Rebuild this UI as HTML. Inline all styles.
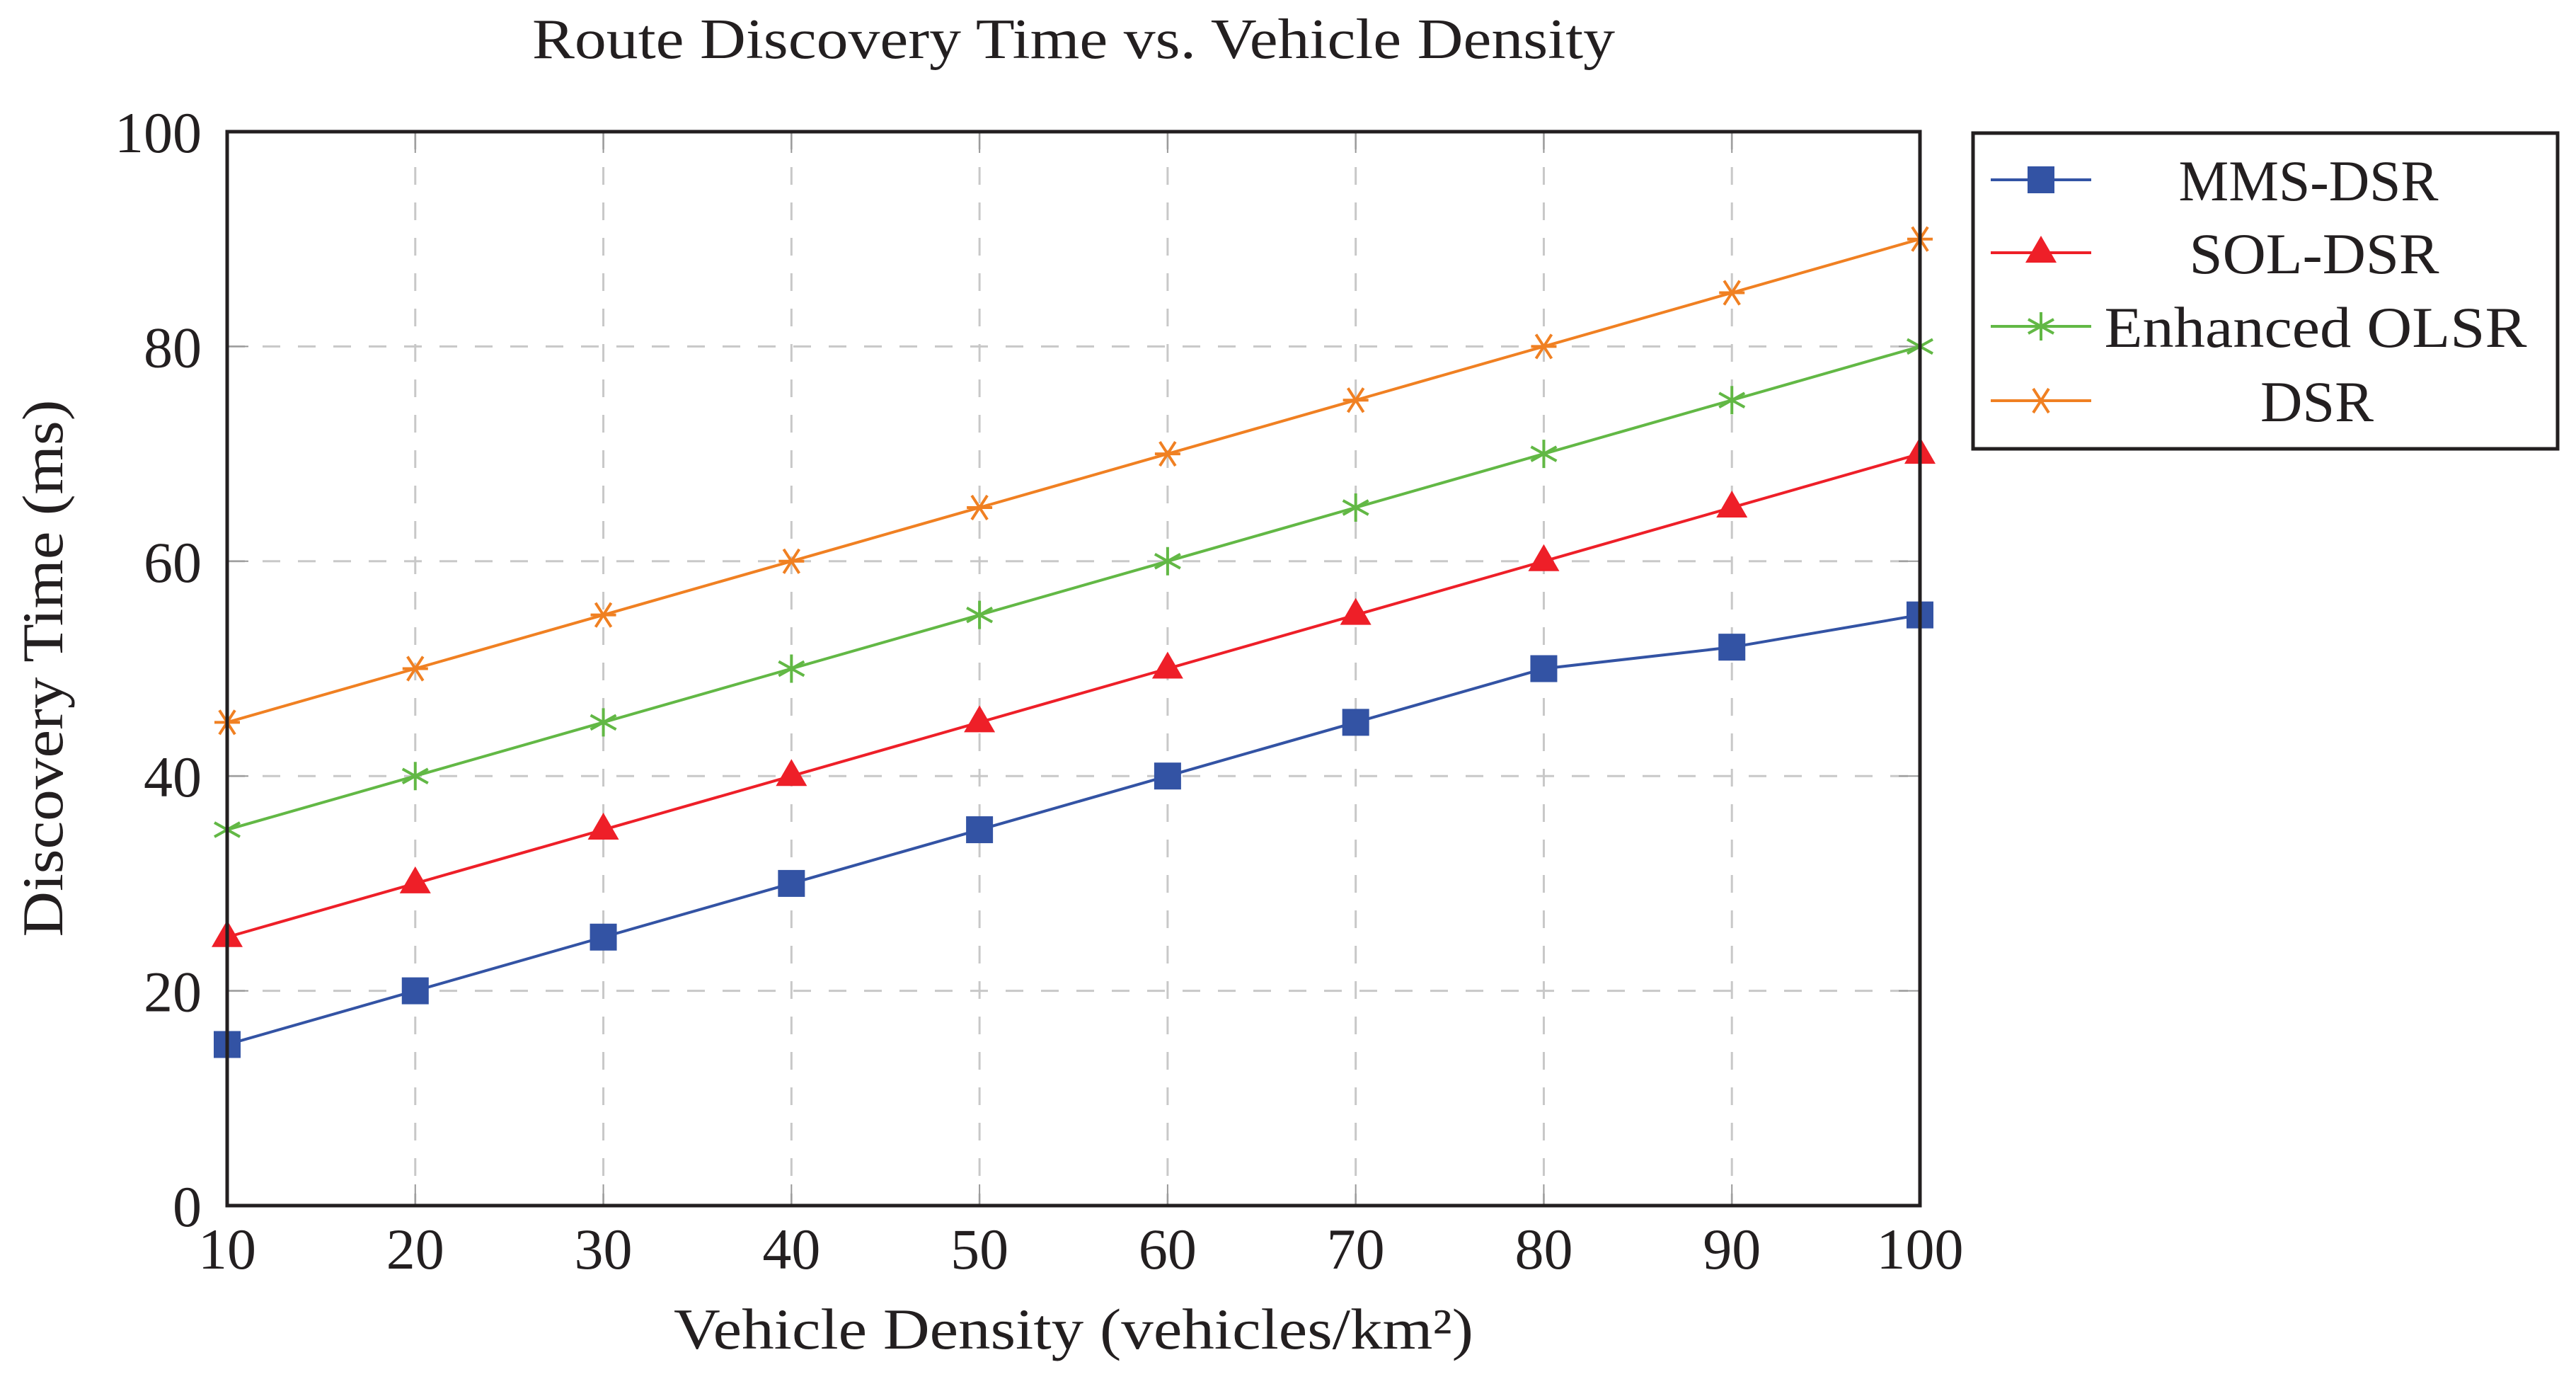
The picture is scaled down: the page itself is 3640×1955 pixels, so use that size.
<!DOCTYPE html>
<html><head><meta charset="utf-8"><style>
html,body{margin:0;padding:0;background:#fff;}
svg{display:block;font-family:"Liberation Serif",serif;}
</style></head><body>
<svg id="chart" width="3640" height="1955" viewBox="0 0 3640 1955" xmlns="http://www.w3.org/2000/svg"></svg>
<script>
const categories = [10,20,30,40,50,60,70,80,90,100];
const mmsDsr = [15,20,25,30,35,40,45,50,52,55];
const solDsr = [25,30,35,40,45,50,55,60,65,70];
const enhancedOlsr = [35,40,45,50,55,60,65,70,75,80];
const dsr = [45,50,55,60,65,70,75,80,85,90];
const yTicks = [0,20,40,60,80,100];
const xTicks = [10,20,30,40,50,60,70,80,90,100];
const seriesNames = ["MMS-DSR","SOL-DSR","Enhanced OLSR","DSR"];

const NS="http://www.w3.org/2000/svg";
const svg=document.getElementById('chart');
const L=321,R=2713,T=186,B=1703;
const xs=v=>L+(v-10)/90*(R-L);
const ys=v=>B-(v/100)*(B-T);
function mk(tag,attrs,parent){const e=document.createElementNS(NS,tag);for(const k in attrs)e.setAttribute(k,attrs[k]);(parent||svg).appendChild(e);return e;}

const grid=mk('g',{});


xTicks.forEach(v=>{const l=mk('line',{x1:xs(v),x2:xs(v),y1:T,y2:B,stroke:'#c8c8c8','stroke-width':3,'stroke-dasharray':'25 25'},grid);


mk('line',{x1:xs(v),x2:xs(v),y1:B,y2:B-30,stroke:'#999','stroke-width':2},grid);
mk('line',{x1:xs(v),x2:xs(v),y1:T,y2:T+30,stroke:'#999','stroke-width':2},grid);});
yTicks.forEach(v=>{const l=mk('line',{x1:L,x2:R,y1:ys(v),y2:ys(v),stroke:'#c8c8c8','stroke-width':3,'stroke-dasharray':'25 25'},grid);


mk('line',{x1:L,x2:L+30,y1:ys(v),y2:ys(v),stroke:'#999','stroke-width':2},grid);
mk('line',{x1:R,x2:R-30,y1:ys(v),y2:ys(v),stroke:'#999','stroke-width':2},grid);});

const colors=['#3353a4','#ee1f28','#62b845','#f08022'];
const data=[mmsDsr,solDsr,enhancedOlsr,dsr];
function marker(k,x,y,g,c){
 if(k===0) return mk('rect',{x:x-19,y:y-19,width:38,height:38,fill:c},g);
 if(k===1) return mk('polygon',{points:`${x},${y-24} ${x+22},${y+14} ${x-22},${y+14}`,fill:c},g);
 if(k===2){const p=mk('path',{d:`M${x},${y-20}V${y+20}M${x-18},${y-10}L${x+18},${y+10}M${x-18},${y+10}L${x+18},${y-10}`,stroke:c,'stroke-width':4,fill:'none'},g);return p;}
 return mk('path',{d:`M${x-11},${y-17}L${x+11},${y+17}M${x-11},${y+17}L${x+11},${y-17}M${x-18},${y}H${x+18}`,stroke:c,'stroke-width':4,fill:'none'},g);
}
data.forEach((arr,k)=>{
 const g=mk('g',{});
 
 
 const pts=arr.map((v,i)=>xs(categories[i])+','+ys(v)).join(' ');
 const pl=mk('polyline',{points:pts,fill:'none',stroke:colors[k],'stroke-width':4},g);
 
 
 arr.forEach((v,i)=>{const m=marker(k,xs(categories[i]),ys(v),g,colors[k]);
 
 });
});

const frame=mk('rect',{x:L,y:T,width:R-L,height:B-T,fill:'none',stroke:'#231f20','stroke-width':5});



xTicks.forEach(v=>{const t=mk('text',{x:xs(v),y:1792,'font-size':82,'text-anchor':'middle',fill:'#231f20'});t.textContent=v;

});
yTicks.forEach(v=>{const t=mk('text',{x:285,y:ys(v)+29,'font-size':82,'text-anchor':'end',fill:'#231f20'});t.textContent=v;

});

const title=mk('text',{x:1517,y:82,'font-size':80,'text-anchor':'middle',fill:'#231f20',textLength:1530,lengthAdjust:'spacingAndGlyphs'});title.textContent='Route Discovery Time vs. Vehicle Density';


const xl=mk('text',{x:1517,y:1905,'font-size':82,'text-anchor':'middle',fill:'#231f20',textLength:1130,lengthAdjust:'spacingAndGlyphs'});xl.textContent='Vehicle Density (vehicles/km²)';


const yl=mk('text',{x:0,y:0,'font-size':82,'text-anchor':'middle',fill:'#231f20',transform:'translate(88,944) rotate(-90)',textLength:759,lengthAdjust:'spacingAndGlyphs'});yl.textContent='Discovery Time (ms)';



const lg=mk('g',{});


mk('rect',{x:2788,y:188,width:826,height:446,fill:'#fff',stroke:'#231f20','stroke-width':5},lg);
const ly=[254,357,461,566];
const lw=[367,353,597,160];
const lc=[3262,3270,3272,3274];
seriesNames.forEach((n,k)=>{
 const e=mk('g',{},lg);
 
 
 mk('line',{x1:2813,x2:2955,y1:ly[k],y2:ly[k],stroke:colors[k],'stroke-width':4},e);
 marker(k,2884,ly[k],e,colors[k]);
 const t=mk('text',{x:lc[k],y:ly[k]+29,'font-size':82,'text-anchor':'middle',fill:'#231f20',textLength:lw[k],lengthAdjust:'spacingAndGlyphs'},e);t.textContent=n;
});
</script>
</body></html>
